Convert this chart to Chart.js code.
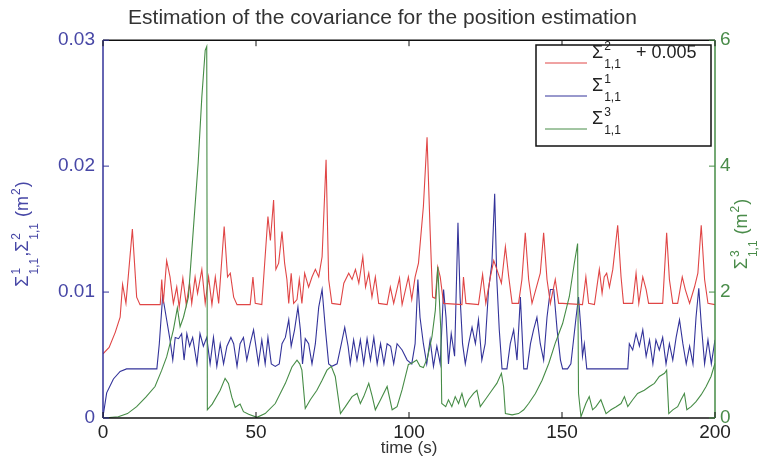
<!DOCTYPE html>
<html>
<head>
<meta charset="utf-8">
<script src="https://cdn.jsdelivr.net/npm/chart.js@4.4.1/dist/chart.umd.min.js"></script>
<style>
  html, body { margin: 0; padding: 0; background: #ffffff; }
  #wrap { width: 765px; height: 459px; position: relative; }
</style>
</head>
<body>
<div id="wrap"><canvas id="covChart"></canvas></div>
<script>
const CHART_TITLE = "Estimation of the covariance for the position estimation";
const X_TITLE = "time (s)";

const xTicks = [0, 50, 100, 150, 200];
const leftTicks = [0, 0.01, 0.02, 0.03];
const leftTickLabels = ["0", "0.01", "0.02", "0.03"];
const rightTicks = [0, 2, 4, 6];
const rightTickLabels = ["0", "2", "4", "6"];

// Sigma^2_{1,1} + 0.005 (left axis)
const timeRed = [0, 2, 4, 5.6, 6.4, 7.5, 9.6, 11, 12.1, 18.7, 19.2, 19.7, 20.8, 21.9, 23, 24.1, 24.9, 26.1, 27.2, 28.3,
  29, 30.1, 30.9, 32.3, 33.4, 34.5, 35.6, 36.7, 37.8, 39.6, 40.7, 41.6, 42.7, 43.8, 48.1, 49, 49.75, 51.9, 53.9, 54.7,
  55.75, 56.5, 57.4, 58.5, 59.35, 60.1, 60.7, 61.5, 62.3, 63.4, 64.15, 65, 65.9, 67.2, 68.3, 69.4, 70.5, 71.6, 72.9, 73.75,
  74.8, 77.6, 78.7, 80.3, 81.4, 82.5, 83.6, 84.9, 85.8, 86.85, 87.9, 89, 90.1, 92.85, 93.9, 95, 96.9, 97.75, 99.8, 100.9,
  102, 103.1, 104.7, 105.9, 106.9, 107.7, 108.6, 109.4, 110.2, 111.3, 117.3, 117.8, 118.6, 122.7, 124.05, 125.1, 126.6, 127.7, 128.7, 130.2,
  131.5, 132.6, 133.7, 135.8, 136.9, 138, 139.1, 140.2, 142.9, 144, 145.1, 146.2, 147.8, 148.9, 150.2, 156.7, 157.8, 158.7, 160.6, 162.2,
  163.1, 163.8, 164.6, 165.5, 166.6, 168.2, 169.3, 170.1, 173.1, 174.2, 175.1, 176.4, 177.5, 178.3, 182.9, 184.2, 185.1, 186.2, 187.8, 189.3,
  190.3, 191.7, 193.3, 194.4, 195.5, 196.6, 197.7, 200];
const covRed = [0.0051, 0.0056, 0.0068, 0.0080, 0.0106, 0.0091, 0.0150, 0.0096, 0.0090, 0.0090, 0.0110, 0.0091, 0.0125, 0.0112, 0.0091, 0.0104, 0.0088, 0.0111, 0.0090, 0.0107,
  0.0091, 0.0112, 0.0099, 0.0118, 0.0091, 0.0112, 0.0090, 0.0112, 0.0091, 0.0152, 0.0112, 0.0115, 0.0096, 0.0090, 0.0090, 0.0112, 0.0091, 0.0090, 0.0160, 0.0141,
  0.0173, 0.0118, 0.0123, 0.0148, 0.0123, 0.0110, 0.0091, 0.0115, 0.0091, 0.0094, 0.0110, 0.0091, 0.0115, 0.0104, 0.0112, 0.0118, 0.0112, 0.0128, 0.0205, 0.0110,
  0.0091, 0.0090, 0.0107, 0.0115, 0.0110, 0.0118, 0.0107, 0.0128, 0.0104, 0.0115, 0.0096, 0.0112, 0.0091, 0.0090, 0.0104, 0.0091, 0.0111, 0.0090, 0.0112, 0.0094,
  0.0112, 0.0123, 0.0168, 0.0223, 0.0149, 0.0096, 0.0095, 0.0120, 0.0112, 0.0091, 0.0090, 0.0112, 0.0091, 0.0090, 0.0114, 0.0091, 0.0112, 0.0125, 0.0118, 0.0107,
  0.0136, 0.0112, 0.0091, 0.0091, 0.0110, 0.0147, 0.0110, 0.0091, 0.0115, 0.0147, 0.0110, 0.0091, 0.0110, 0.0091, 0.0091, 0.0090, 0.0112, 0.0091, 0.0090, 0.0118,
  0.0099, 0.0112, 0.0115, 0.0104, 0.0118, 0.0153, 0.0112, 0.0091, 0.0091, 0.0115, 0.0091, 0.0112, 0.0102, 0.0091, 0.0091, 0.0147, 0.0110, 0.0091, 0.0091, 0.0112,
  0.0102, 0.0091, 0.0104, 0.0115, 0.0153, 0.0110, 0.0091, 0.0090];

// Sigma^1_{1,1} (left axis)
const timeBlue = [0, 1.2, 3.4, 5.6, 7.7, 17.6, 18.4, 19.5, 20.8, 21.9, 22.8, 23.6, 24.7, 25.7, 26.5, 27.4, 28.3, 29.3, 30.7, 31.7,
  32.8, 33.9, 35, 36.1, 37.2, 38.3, 39.4, 40.5, 41.8, 42.7, 43.8, 44.8, 45.9, 47, 48.1, 49.2, 50.8, 51.9, 53, 53.9,
  55, 56.3, 57.6, 58.5, 59.6, 60.7, 61.5, 62.6, 63.7, 64.5, 65.2, 66.1, 67.2, 68.3, 69.4, 70.5, 71.6, 72.7, 73.75, 74.8,
  76.5, 77.9, 79, 80.1, 80.8, 81.9, 83, 84.1, 85.2, 86.3, 87.4, 88.5, 89.6, 90.7, 91.8, 92.85, 94, 95, 96.1, 97.75,
  99.4, 100.9, 102, 102.9, 103.6, 104.7, 105.8, 106.9, 108, 109.1, 110.2, 111.3, 112.1, 112.9, 113.8, 114.9, 116, 116.7, 117.5, 118.4,
  119.5, 120.6, 121.7, 122.7, 123.8, 124.9, 126, 127.1, 128, 128.7, 129.5, 130.4, 132, 133.1, 134.2, 135.3, 136.4, 137.5, 138.6, 139.7,
  140.7, 141.8, 142.9, 144, 145.1, 146.2, 147.3, 148.4, 149.5, 150.2, 151.8, 152.9, 154.6, 155.4, 156.2, 156.7, 157.3, 158.1, 171.5, 172,
  173.1, 174.2, 175.3, 176.4, 177.5, 178.6, 179.7, 180.7, 181.8, 182.9, 184, 185.1, 186.2, 187.3, 188.4, 189.5, 190.6, 191.7, 192.8, 193.8,
  194.7, 195.5, 196.6, 197.7, 198.8, 200];
const covBlue = [0.0001, 0.0020, 0.0031, 0.0037, 0.0039, 0.0039, 0.0059, 0.0097, 0.0078, 0.0062, 0.0046, 0.0064, 0.0063, 0.0067, 0.0046, 0.0067, 0.0057, 0.0064, 0.0043, 0.0067,
  0.0057, 0.0064, 0.0043, 0.0064, 0.0041, 0.0059, 0.0043, 0.0057, 0.0064, 0.0059, 0.0041, 0.0059, 0.0064, 0.0046, 0.0059, 0.0070, 0.0043, 0.0062, 0.0043, 0.0064,
  0.0043, 0.0041, 0.0043, 0.0059, 0.0064, 0.0078, 0.0057, 0.0070, 0.0088, 0.0070, 0.0043, 0.0063, 0.0059, 0.0043, 0.0059, 0.0088, 0.0102, 0.0070, 0.0043, 0.0041,
  0.0043, 0.0059, 0.0072, 0.0057, 0.0043, 0.0062, 0.0046, 0.0062, 0.0043, 0.0063, 0.0046, 0.0064, 0.0043, 0.0059, 0.0043, 0.0059, 0.0057, 0.0043, 0.0059, 0.0054,
  0.0046, 0.0043, 0.0059, 0.0110, 0.0080, 0.0059, 0.0043, 0.0062, 0.0041, 0.0057, 0.0043, 0.0102, 0.0080, 0.0043, 0.0067, 0.0049, 0.0155, 0.0096, 0.0059, 0.0043,
  0.0059, 0.0072, 0.0059, 0.0078, 0.0046, 0.0059, 0.0102, 0.0123, 0.0178, 0.0110, 0.0070, 0.0039, 0.0039, 0.0059, 0.0070, 0.0046, 0.0096, 0.0039, 0.0039, 0.0059,
  0.0070, 0.0080, 0.0059, 0.0046, 0.0080, 0.0102, 0.0102, 0.0070, 0.0046, 0.0039, 0.0039, 0.0043, 0.0080, 0.0096, 0.0070, 0.0049, 0.0059, 0.0039, 0.0039, 0.0059,
  0.0054, 0.0067, 0.0057, 0.0070, 0.0049, 0.0062, 0.0043, 0.0062, 0.0054, 0.0064, 0.0043, 0.0059, 0.0046, 0.0064, 0.0078, 0.0059, 0.0043, 0.0057, 0.0043, 0.0080,
  0.0103, 0.0075, 0.0043, 0.0062, 0.0043, 0.0062];

// Sigma^3_{1,1} (right axis)
const timeGreen = [0, 5, 8, 11, 14, 17, 19.2, 20.8, 22, 23, 24.3, 25.2, 26.3, 27.9, 29.5, 31.1, 32.3, 33.4, 33.9, 34.1,
  35.7, 38.3, 39.9, 41, 42.1, 43.2, 44.8, 45.9, 47.6, 50.3, 53, 56.3, 59.6, 61.75, 63.4, 64.3, 65, 66.1, 67.75, 69.9,
  71.6, 73.2, 74.6, 75.9, 77.6, 79.2, 81.4, 83, 84.1, 85.2, 86.85, 88, 89, 90.7, 92.85, 94.5, 96.1, 97.75, 99.8, 100.9,
  102.5, 103.6, 104.7, 106, 107.5, 108.6, 109.4, 109.9, 110.4, 110.7, 112, 112.9, 114, 115.1, 116.2, 117.3, 118.4, 119.5, 121.1, 122.2,
  123.3, 124.9, 127.1, 128.7, 130.2, 130.9, 131.5, 133.7, 135.8, 137.5, 139.1, 141.3, 143.5, 145.7, 147.8, 150.2, 152.4, 154, 155.1, 155.4,
  156.2, 157.8, 158.9, 160, 161.1, 162.7, 164.4, 166, 167.7, 169.3, 170.4, 171.5, 173.1, 174.7, 176.9, 178.6, 180.2, 181.8, 183.5, 184.2,
  184.9, 186.2, 187.8, 188.9, 190, 190.8, 192.2, 193.8, 195.5, 197.1, 198.7, 200];
const covGreen = [0, 0.02, 0.07, 0.18, 0.33, 0.5, 0.76, 0.97, 1.2, 1.4, 1.75, 1.45, 1.6, 1.92, 2.98, 4.05, 5.1, 5.84, 5.9, 0.13,
  0.22, 0.44, 0.63, 0.55, 0.33, 0.17, 0.22, 0.1, 0.06, 0.01, 0.07, 0.23, 0.55, 0.81, 0.92, 0.86, 0.76, 0.15, 0.29, 0.44,
  0.6, 0.76, 0.82, 0.66, 0.07, 0.18, 0.34, 0.39, 0.23, 0.34, 0.55, 0.34, 0.13, 0.29, 0.5, 0.13, 0.18, 0.45, 0.85, 0.87,
  0.92, 0.82, 0.8, 0.95, 1.29, 1.71, 2.4, 1.9, 1.4, 0.23, 0.18, 0.29, 0.18, 0.34, 0.23, 0.39, 0.18, 0.29, 0.39, 0.44,
  0.18, 0.29, 0.44, 0.55, 0.71, 0.5, 0.07, 0.05, 0.07, 0.13, 0.23, 0.39, 0.6, 0.87, 1.19, 1.5, 1.93, 2.45, 2.77, 0.39,
  0.02, 0.23, 0.34, 0.13, 0.18, 0.29, 0.07, 0.13, 0.18, 0.23, 0.34, 0.18, 0.29, 0.39, 0.44, 0.5, 0.55, 0.66, 0.71, 0.76,
  0.07, 0.13, 0.18, 0.29, 0.39, 0.13, 0.18, 0.26, 0.37, 0.5, 0.66, 0.87];

const RED = "#e04646";
const BLUE = "#33339a";
const GREEN = "#468c46";
const LEFT_TEXT = "#4747a6";
const RIGHT_TEXT = "#4a8c4a";
const FONT_FAMILY = "'Liberation Sans', Arial, sans-serif";

const legendSup = ["2", "1", "3"];
const legendSuffix = ["+ 0.005", "", ""];
const legendColors = [RED, BLUE, GREEN];

function toPoints(times, values) {
  return times.map(function (t, i) {
    return { x: t, y: values[i] };
  });
}

// draws pieces like Σ with stacked super/subscript, returns end x
function runPieces(ctx, pieces, x, y, draw) {
  pieces.forEach(function (p) {
    ctx.font = "18px " + FONT_FAMILY;
    if (draw) ctx.fillText(p.t, x, y);
    x += ctx.measureText(p.t).width;
    if (p.sup || p.sub) {
      ctx.font = "12px " + FONT_FAMILY;
      let w = 0;
      if (p.sup) {
        if (draw) ctx.fillText(p.sup, x + 1, y - 8);
        w = Math.max(w, ctx.measureText(p.sup).width);
      }
      if (p.sub) {
        if (draw) ctx.fillText(p.sub, x + 1, y + 10);
        w = Math.max(w, ctx.measureText(p.sub).width);
      }
      x += w + 2;
    }
  });
  return x;
}

function drawRotatedLabel(ctx, pieces, baseX, centerY, color) {
  ctx.save();
  ctx.translate(baseX, centerY);
  ctx.rotate(-Math.PI / 2);
  ctx.fillStyle = color;
  ctx.textBaseline = "alphabetic";
  ctx.textAlign = "left";
  const w = runPieces(ctx, pieces, 0, 0, false);
  runPieces(ctx, pieces, -w / 2, 0, true);
  ctx.restore();
}

function strokeLine(ctx, x1, y1, x2, y2, color) {
  ctx.strokeStyle = color;
  ctx.beginPath();
  ctx.moveTo(x1, y1);
  ctx.lineTo(x2, y2);
  ctx.stroke();
}

const matlabFrame = {
  id: "matlabFrame",
  afterDatasetsDraw(chart) {
    const ctx = chart.ctx;
    const a = chart.chartArea;
    const sx = chart.scales.x;
    const sy = chart.scales.y;
    const sy2 = chart.scales.y2;

    ctx.save();
    ctx.lineWidth = 1.5;
    strokeLine(ctx, a.left, a.top, a.right, a.top, "#111111");
    strokeLine(ctx, a.left, a.bottom, a.right, a.bottom, "#111111");
    strokeLine(ctx, a.left, a.top, a.left, a.bottom, BLUE);
    strokeLine(ctx, a.right, a.top, a.right, a.bottom, GREEN);

    // ticks pointing inward
    ctx.lineWidth = 1;
    xTicks.forEach(function (v) {
      const px = sx.getPixelForValue(v);
      strokeLine(ctx, px, a.bottom, px, a.bottom - 6, "#111111");
      strokeLine(ctx, px, a.top, px, a.top + 6, "#111111");
    });
    leftTicks.forEach(function (v) {
      const py = sy.getPixelForValue(v);
      strokeLine(ctx, a.left, py, a.left + 6, py, BLUE);
    });
    rightTicks.forEach(function (v) {
      const py = sy2.getPixelForValue(v);
      strokeLine(ctx, a.right, py, a.right - 6, py, GREEN);
    });

    // legend box
    const lx = 536, ly = 45, lw = 175, lh = 101;
    ctx.fillStyle = "#ffffff";
    ctx.fillRect(lx, ly, lw, lh);
    ctx.lineWidth = 1.5;
    ctx.strokeStyle = "#111111";
    ctx.strokeRect(lx, ly, lw, lh);
    ctx.lineWidth = 1;
    const rows = [63, 96, 129];
    rows.forEach(function (ry, i) {
      strokeLine(ctx, 545, ry, 587, ry, legendColors[i]);
      ctx.fillStyle = "#222222";
      ctx.textAlign = "left";
      ctx.textBaseline = "alphabetic";
      const pieces = [{ t: "\u03A3", sup: legendSup[i], sub: "1,1" }];
      runPieces(ctx, pieces, 592, ry - 5, true);
      if (legendSuffix[i]) {
        ctx.font = "18px " + FONT_FAMILY;
        ctx.fillText(legendSuffix[i], 636, ry - 5);
      }
    });

    // axis titles with sub/superscripts
    drawRotatedLabel(ctx, [
      { t: "\u03A3", sup: "1", sub: "1,1" },
      { t: "," },
      { t: "\u03A3", sup: "2", sub: "1,1" },
      { t: " (m", sup: "2" },
      { t: ")" }
    ], 28, 234, LEFT_TEXT);
    drawRotatedLabel(ctx, [
      { t: "\u03A3", sup: "3", sub: "1,1" },
      { t: " (m", sup: "2" },
      { t: ")" }
    ], 747, 234, RIGHT_TEXT);
    ctx.restore();
  }
};

new Chart(document.getElementById("covChart"), {
  type: "line",
  data: {
    datasets: [
      {
        label: "Sigma3",
        data: toPoints(timeGreen, covGreen),
        yAxisID: "y2",
        borderColor: GREEN,
        order: 0
      },
      {
        label: "Sigma2 + 0.005",
        data: toPoints(timeRed, covRed),
        yAxisID: "y",
        borderColor: RED,
        order: 1
      },
      {
        label: "Sigma1",
        data: toPoints(timeBlue, covBlue),
        yAxisID: "y",
        borderColor: BLUE,
        order: 2
      }
    ]
  },
  options: {
    responsive: true,
    maintainAspectRatio: false,
    animation: false,
    events: [],
    layout: { padding: 0 },
    elements: {
      point: { radius: 0 },
      line: { borderWidth: 1.1, tension: 0, fill: false }
    },
    plugins: {
      legend: { display: false },
      tooltip: { enabled: false },
      title: {
        display: true,
        text: CHART_TITLE,
        color: "#333333",
        font: { family: FONT_FAMILY, size: 21, weight: "normal" },
        padding: { top: 6, bottom: 9 }
      }
    },
    scales: {
      x: {
        type: "linear",
        min: 0,
        max: 200,
        afterBuildTicks: function (scale) {
          scale.ticks = xTicks.map(function (v) { return { value: v }; });
        },
        afterFit: function (scale) { scale.height = 41; },
        grid: { display: false, drawTicks: false },
        border: { display: false },
        ticks: {
          color: "#222222",
          padding: 3,
          maxRotation: 0,
          font: { family: FONT_FAMILY, size: 19 }
        },
        title: {
          display: true,
          text: X_TITLE,
          color: "#333333",
          font: { family: FONT_FAMILY, size: 17 },
          padding: { top: 0, bottom: 0 }
        }
      },
      y: {
        position: "left",
        min: 0,
        max: 0.03,
        afterBuildTicks: function (scale) {
          scale.ticks = leftTicks.map(function (v) { return { value: v }; });
        },
        afterFit: function (scale) { scale.width = 103; },
        grid: { display: false, drawTicks: false },
        border: { display: false },
        ticks: {
          color: LEFT_TEXT,
          padding: 8,
          font: { family: FONT_FAMILY, size: 19 },
          callback: function (value, index) { return leftTickLabels[index]; }
        }
      },
      y2: {
        position: "right",
        min: 0,
        max: 6,
        afterBuildTicks: function (scale) {
          scale.ticks = rightTicks.map(function (v) { return { value: v }; });
        },
        afterFit: function (scale) { scale.width = 50; },
        grid: { display: false, drawTicks: false },
        border: { display: false },
        ticks: {
          color: RIGHT_TEXT,
          padding: 5,
          font: { family: FONT_FAMILY, size: 19 },
          callback: function (value, index) { return rightTickLabels[index]; }
        }
      }
    }
  },
  plugins: [matlabFrame]
});
</script>
</body>
</html>
